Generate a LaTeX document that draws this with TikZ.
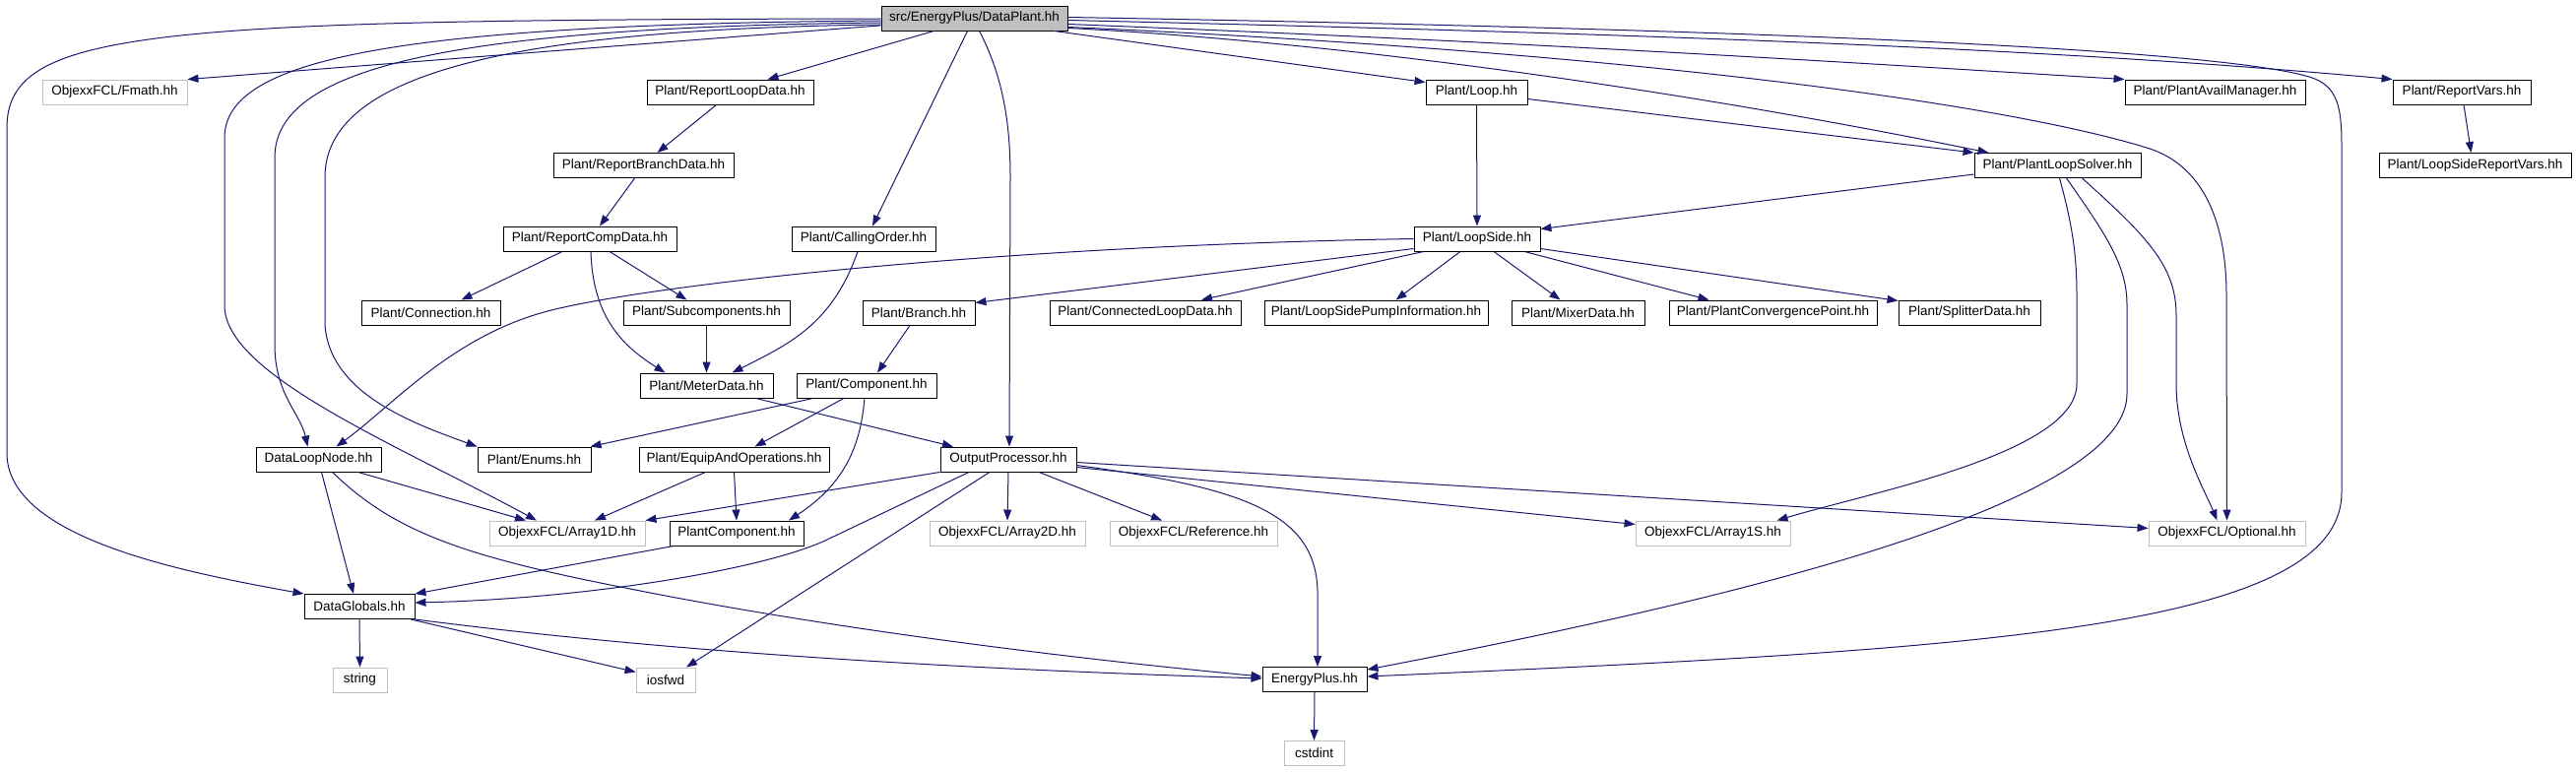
\documentclass[tikz,border=0pt]{standalone}
\usepackage{fontspec}
\setmainfont{Liberation Sans}
\usetikzlibrary{arrows.meta}
\definecolor{edgeblue}{RGB}{25,25,112}
\definecolor{lgray}{RGB}{191,191,191}
\begin{document}
\begin{tikzpicture}[x=1pt,y=-1pt,
  font=\fontsize{13.5}{16}\selectfont,
  box/.style={draw=black, line width=0.9pt, inner sep=0pt, minimum height=25pt, anchor=center},
  gbox/.style={box, draw=lgray},
  dep/.style={draw=edgeblue, line width=1pt, -{Triangle[length=11pt,width=8pt]}}]
\useasboundingbox (0,0) rectangle (2616,784);
\fill[white] (0,0) rectangle (2616,784);
% nodes
\node[box, fill=lgray, minimum width=189pt] (root) at (989.5,18.5) {src/EnergyPlus/DataPlant.hh};
\node[gbox, minimum width=147pt] (Fmath) at (116.5,93.5) {ObjexxFCL/Fmath.hh};
\node[box, minimum width=169pt] (RLD) at (741.5,93.5) {Plant/ReportLoopData.hh};
\node[box, minimum width=103pt] (Loop) at (1499.5,93.5) {Plant/Loop.hh};
\node[box, minimum width=183pt] (PAM) at (2249.5,93.5) {Plant/PlantAvailManager.hh};
\node[box, minimum width=140pt] (RV) at (2500,93.5) {Plant/ReportVars.hh};
\node[box, minimum width=183pt] (RBD) at (653.5,168) {Plant/ReportBranchData.hh};
\node[box, minimum width=169pt] (PLS) at (2089.5,168) {Plant/PlantLoopSolver.hh};
\node[box, minimum width=195pt] (LSRV) at (2513.5,168) {Plant/LoopSideReportVars.hh};
\node[box, minimum width=176pt] (RCD) at (599,242.5) {Plant/ReportCompData.hh};
\node[box, minimum width=146pt] (CO) at (877,242.5) {Plant/CallingOrder.hh};
\node[box, minimum width=128pt] (LS) at (1500,242.5) {Plant/LoopSide.hh};
\node[box, minimum width=141pt] (Conn) at (437.5,317.5) {Plant/Connection.hh};
\node[box, minimum width=169pt] (Subc) at (717.5,317.5) {Plant/Subcomponents.hh};
\node[box, minimum width=114pt] (Branch) at (933,317.5) {Plant/Branch.hh};
\node[box, minimum width=194pt] (CLD) at (1163,317.5) {Plant/ConnectedLoopData.hh};
\node[box, minimum width=227pt] (LSPI) at (1397.5,317.5) {Plant/LoopSidePumpInformation.hh};
\node[box, minimum width=135pt] (Mixer) at (1602.5,317.5) {Plant/MixerData.hh};
\node[box, minimum width=211pt] (PCP) at (1800.5,317.5) {Plant/PlantConvergencePoint.hh};
\node[box, minimum width=144pt] (Split) at (2000,317.5) {Plant/SplitterData.hh};
\node[box, minimum width=135pt] (Meter) at (717.5,391.5) {Plant/MeterData.hh};
\node[box, minimum width=142pt] (Comp) at (880,391.5) {Plant/Component.hh};
\node[box, minimum width=127pt] (DLN) at (323.5,466.5) {DataLoopNode.hh};
\node[box, minimum width=115pt] (Enums) at (542.5,466.5) {Plant/Enums.hh};
\node[box, minimum width=193pt] (EAO) at (745.5,466.5) {Plant/EquipAndOperations.hh};
\node[box, minimum width=138pt] (OP) at (1024,466.5) {OutputProcessor.hh};
\node[gbox, minimum width=158pt] (A1D) at (576,541.5) {ObjexxFCL/Array1D.hh};
\node[box, minimum width=136pt] (PC) at (748,541.5) {PlantComponent.hh};
\node[gbox, minimum width=158pt] (A2D) at (1023,541.5) {ObjexxFCL/Array2D.hh};
\node[gbox, minimum width=170pt] (Ref) at (1212,541.5) {ObjexxFCL/Reference.hh};
\node[gbox, minimum width=157pt] (A1S) at (1739.5,541.5) {ObjexxFCL/Array1S.hh};
\node[gbox, minimum width=159pt] (Opt) at (2261.5,541.5) {ObjexxFCL/Optional.hh};
\node[box, minimum width=112pt] (DG) at (365,616) {DataGlobals.hh};
\node[box, minimum width=106pt] (EP) at (1335,690) {EnergyPlus.hh};
\node[gbox, minimum width=55pt] (string) at (365.5,690.5) {string};
\node[gbox, minimum width=60pt] (iosfwd) at (676,690.5) {iosfwd};
\node[gbox, minimum width=61pt] (cstdint) at (1334.5,765) {cstdint};
% edges from root
\draw[dep] (root) -- (Fmath.north east);
\draw[dep] ([yshift=-0.5pt]root.west) .. controls (150,20) and (7,30) .. (7,130) -- (7,460) .. controls (7,545) and (180,580) .. (DG.north west);
\draw[dep] ([yshift=-2.5pt]root.west) .. controls (400,25) and (228,60) .. (228,140) -- (228,310) .. controls (228,380) and (400,450) .. ([xshift=-31pt]A1D.north);
\draw[dep] ([yshift=-4.5pt]root.west) .. controls (450,28) and (279,70) .. (279,160) -- (279,350) .. controls (279,400) and (305,420) .. ([xshift=-11pt]DLN.north);
\draw[dep] ([yshift=-6.5pt]root.west) .. controls (500,30) and (330,80) .. (330,180) -- (330,330) .. controls (335,400) and (420,430) .. (Enums.north west);
\draw[dep] ([xshift=-41pt]root.south) -- ([xshift=38pt]RLD.north);
\draw[dep] ([xshift=-7pt]root.south) -- ([xshift=9pt]CO.north);
\draw[dep] ([xshift=5pt]root.south) .. controls (1020,80) and (1026,130) .. (1026,180) -- ([xshift=1pt]OP.north);
\draw[dep] ([xshift=-14pt]root.south east) -- ([yshift=-3pt]Loop.north west);
\draw[dep] ([yshift=3pt]root.south east) .. controls (1400,45) and (1750,100) .. ([xshift=-70pt]PLS.north);
\draw[dep] ([yshift=-6pt]root.east) .. controls (1600,45) and (1900,65) .. (PAM.north west);
\draw[dep] ([yshift=-2pt]root.east) .. controls (1700,35) and (2100,50) .. (RV.north west);
\draw[dep] ([yshift=1pt]root.east) .. controls (1800,30) and (2250,50) .. (2345,78) .. controls (2375,87) and (2378,110) .. (2378,150) -- (2378,500) .. controls (2378,640) and (2000,660) .. ([yshift=3pt]EP.east);
\draw[dep] ([yshift=-9pt]root.east) .. controls (1700,55) and (2050,110) .. (2180,150) .. controls (2240,168) and (2261,230) .. (2261,300) -- (Opt.north);
% loop / solver
\draw[dep] (Loop.south) -- (LS.north);
\draw[dep] ([yshift=-7pt]Loop.east) -- (PLS.north west);
\draw[dep] ([yshift=-9pt]PLS.west) -- ([yshift=10pt]LS.east);
\draw[dep] ([xshift=2pt]PLS.south) .. controls (2105,230) and (2109,260) .. (2109,300) -- (2109,390) .. controls (2109,460) and (1900,500) .. ([xshift=65pt]A1S.north);
\draw[dep] ([xshift=9pt]PLS.south) .. controls (2140,240) and (2160,270) .. (2160,310) -- (2160,400) .. controls (2160,520) and (1700,620) .. ([yshift=10pt]EP.east);
\draw[dep] ([xshift=25pt]PLS.south) .. controls (2180,240) and (2210,270) .. (2210,320) -- (2210,390) .. controls (2210,450) and (2240,500) .. ([xshift=-10pt]Opt.north);
\draw[dep] ([xshift=2pt]RV.south) -- ([xshift=-4pt]LSRV.north);
% report chain
\draw[dep] ([xshift=-14pt]RLD.south) -- ([xshift=14pt]RBD.north);
\draw[dep] ([xshift=-9pt]RBD.south) -- ([xshift=10pt]RCD.north);
\draw[dep] ([xshift=-28pt]RCD.south) -- ([xshift=31pt]Conn.north);
\draw[dep] ([xshift=20pt]RCD.south) -- ([xshift=-20pt]Subc.north);
\draw[dep] ([xshift=1pt]RCD.south) .. controls (602,320) and (630,350) .. ([xshift=-42pt]Meter.north);
\draw[dep] (Subc.south) -- (Meter.north);
\draw[dep] ([xshift=-6pt]CO.south) .. controls (845,330) and (800,350) .. ([xshift=26pt]Meter.north);
\draw[dep] ([xshift=-9pt]Branch.south) -- ([xshift=11pt]Comp.north);
% loop side
\draw[dep] (LS.west) .. controls (1000,250) and (660,290) .. (560,315) .. controls (460,340) and (400,411) .. ([xshift=18pt]DLN.north);
\draw[dep] ([yshift=-10pt]LS.west) -- ([yshift=10pt]Branch.east);
\draw[dep] ([xshift=-54pt]LS.south) -- ([xshift=57pt]CLD.north);
\draw[dep] ([xshift=-17pt]LS.south) -- ([xshift=20pt]LSPI.north);
\draw[dep] ([xshift=17pt]LS.south) -- ([xshift=-18pt]Mixer.north);
\draw[dep] ([xshift=48pt]LS.south) -- ([xshift=-65pt]PCP.north);
\draw[dep] ([yshift=-10pt]LS.east) -- ([yshift=12pt]Split.west);
% middle
\draw[dep] ([xshift=50pt]Meter.south) -- ([xshift=-56pt]OP.north);
\draw[dep] ([xshift=-54pt]Comp.south) -- ([xshift=57pt]Enums.north);
\draw[dep] ([xshift=-23pt]Comp.south) -- ([xshift=21pt]EAO.north);
\draw[dep] ([xshift=-2pt]Comp.south) .. controls (874,450) and (860,490) .. ([xshift=53pt]PC.north);
\draw[dep] ([xshift=-29pt]EAO.south) -- ([xshift=28pt]A1D.north);
\draw[dep] (EAO.south) -- (PC.north);
\draw[dep] ([xshift=40pt]DLN.south) -- ([xshift=-42pt]A1D.north);
\draw[dep] ([xshift=3pt]DLN.south) -- ([xshift=-6pt]DG.north);
\draw[dep] ([xshift=14pt]DLN.south) .. controls (400,540) and (470,565) .. (640,598) .. controls (850,640) and (1100,670) .. ([yshift=3pt]EP.west);
\draw[dep] ([xshift=-64pt]PC.south) -- (DG.north east);
% output processor
\draw[dep] (OP.south west) -- (A1D.north east);
\draw[dep] ([xshift=-40pt]OP.south) -- (840,548) .. controls (780,577) and (600,608) .. ([yshift=4pt]DG.east);
\draw[dep] ([xshift=-19pt]OP.south) -- ([xshift=21pt]iosfwd.north);
\draw[dep] (OP.south) -- (A2D.north);
\draw[dep] ([xshift=31pt]OP.south) -- ([xshift=-32pt]Ref.north);
\draw[dep] ([yshift=-8pt]OP.east) -- ([yshift=9pt]A1S.west);
\draw[dep] ([yshift=-3pt]OP.east) -- ([yshift=5pt]Opt.west);
\draw[dep] ([yshift=-6pt]OP.east) .. controls (1260,495) and (1336,520) .. (1338,600) -- ([xshift=3pt]EP.north);
% bottom
\draw[dep] (DG.south) -- (string.north);
\draw[dep] ([xshift=52pt]DG.south) -- ([yshift=8pt]iosfwd.west);
\draw[dep] (DG.south east) .. controls (700,665) and (1000,680) .. ([yshift=1pt]EP.west);
\draw[dep] (EP.south) -- (cstdint.north);
\end{tikzpicture}
\end{document}
